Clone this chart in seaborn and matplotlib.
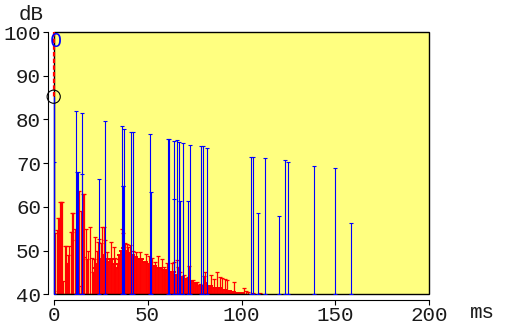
import numpy as np
import pandas as pd
import matplotlib
matplotlib.use("Agg")
import matplotlib.pyplot as plt
import seaborn as sns
from matplotlib.patches import Rectangle

# ---- data ----
blue_ms = [0.0, 11.9, 12.2, 12.8, 14.9, 15.0, 24.1, 27.1, 36.3, 36.7, 37.0, 37.6,
           41.0, 42.3, 51.2, 51.6, 60.8, 61.3, 64.1, 64.2, 65.6, 66.8, 67.3, 69.1,
           71.3, 72.7, 78.7, 79.3, 81.5, 105.3, 105.9, 108.7, 112.4, 119.8, 123.4,
           124.8, 138.6, 149.8, 158.5]
blue_db = [70.2, 81.9, 67.9, 67.9, 81.4, 67.5, 66.3, 79.6, 78.4, 64.7, 64.7, 77.8,
           77.2, 77.2, 76.6, 63.3, 75.5, 75.5, 75.0, 61.7, 75.2, 74.8, 61.4, 74.7,
           61.3, 74.1, 73.9, 73.9, 73.4, 71.5, 71.5, 58.7, 71.1, 58.0, 70.7,
           70.2, 69.3, 68.8, 56.2]

red_ms = [0.0, 0.5, 1.8, 2.3, 2.8, 3.4, 3.9, 4.3, 4.9, 6.0, 6.5, 7.1, 7.6, 8.1,
          9.2, 9.7, 10.0, 10.5, 11.1, 11.9, 13.5, 14.3, 14.5, 15.5, 16.1, 16.4,
          17.0, 17.7, 18.5, 19.3, 20.2, 20.9, 21.5, 22.0, 23.0, 23.5, 24.1, 25.2,
          25.7, 26.8, 27.3, 28.4, 30.5, 32.1, 32.6, 34.2, 36.3, 36.9, 37.7, 39.0,
          39.8, 40.6, 42.2, 43.8, 45.9, 49.1, 50.7, 52.3, 53.9, 55.5, 57.6, 58.7,
          60.3, 62.9, 64.0, 65.6, 66.1, 67.2, 69.3, 71.4, 72.0, 74.1, 76.2, 77.8,
          80.0, 80.5, 82.6, 83.7, 85.3, 86.9, 88.5, 89.5, 91.1, 92.2, 93.8, 95.9,
          98.6, 101.2, 102.3, 103.4, 106.0, 109.7]
red_db = [40.7, 54.1, 54.7, 57.5, 57.5, 61.0, 61.0, 61.0, 43.1, 51.0, 51.0, 47.1,
          49.0, 51.0, 54.3, 54.3, 58.5, 58.5, 55.0, 52.4, 63.7, 59.1, 42.0, 62.9,
          62.9, 48.6, 55.0, 48.1, 50.0, 55.3, 48.3, 45.2, 48.0, 53.2, 50.0, 52.0,
          52.7, 51.8, 55.4, 55.3, 52.4, 49.7, 52.0, 50.9, 48.2, 48.0, 54.9, 54.0,
          51.8, 51.5, 50.8, 51.3, 50.0, 49.7, 49.7, 49.2, 48.8, 48.2, 47.5, 48.8,
          48.0, 46.3, 47.1, 47.2, 47.5, 47.8, 46.3, 45.2, 44.4, 43.9, 46.5, 43.3,
          42.8, 42.4, 44.2, 45.0, 41.4, 44.4, 43.4, 45.2, 44.0, 43.7, 43.4, 43.3,
          40.6, 42.7, 40.2, 41.4, 40.8, 40.6, 40.4, 40.3]

fill_ms = list(range(22, 101))
fill_db = [46, 47, 48, 48, 49, 48.5, 48, 47.5, 48, 48, 47, 46, 47, 49, 50, 50.5,
           50, 49.5, 49.5, 49, 49, 48.5, 48.5, 48, 48, 48, 47.5, 47.5, 47, 47,
           46.5, 46.5, 46.5, 46, 46, 46, 45.5, 45.5, 45.5, 45, 45, 45, 45, 44.5,
           44.5, 44, 44, 43.5, 43.5, 43.5, 43, 43, 42.5, 42.5, 42.5, 42, 42, 42,
           42, 42.5, 42, 42, 42, 41.5, 41.5, 41.5, 41.5, 41.5, 41, 41, 41, 40.8,
           40.8, 40.6, 40.6, 40.4, 40.4, 40.3, 40.3]

direct_ms = [0.0, 0.0]
direct_db = [100.0, 85.2]
x_ticks = [0, 50, 100, 150, 200]
y_ticks = [40, 50, 60, 70, 80, 90, 100]
floor_db = 40.0

sns.set_theme(style="ticks")
plt.rcParams['font.family'] = ['Liberation Mono', 'DejaVu Sans']

fig = plt.figure(figsize=(5.05, 3.26), dpi=100)
ax = fig.add_axes([53.7 / 505, 1 - 294.3 / 326, (429.3 - 53.7) / 505, (294.3 - 32) / 326])
ax.set_facecolor('#FFFF80')

def stems(ms, db, color, lw, cap, z):
    ms = np.asarray(ms, float)
    db = np.asarray(db, float)
    ax.errorbar(ms, db, yerr=[db - floor_db, np.zeros_like(db)], fmt='none',
                ecolor=color, elinewidth=lw, capsize=cap, capthick=lw, zorder=z)

stems(fill_ms, fill_db, '#FF0000', 1.4, 1.4, 2)
stems(red_ms, red_db, '#FF0000', 0.9, 1.6, 3)

ax.add_patch(Rectangle((0, 0), 1, 1, transform=ax.transAxes, fill=False,
                       edgecolor='black', lw=1.0, clip_on=False, zorder=3.5))

# direct sound: blue line to circle, red dashed above
ax.plot([0, 0], [floor_db, direct_db[1]], color='#0000FF', lw=0.9, zorder=4, clip_on=False)
stems(blue_ms, blue_db, '#0000FF', 0.8, 1.6, 4)
ax.plot(direct_ms, direct_db, color='#FF0000', lw=1.6, ls=(0, (2, 1)), zorder=12, clip_on=False)
circ = pd.DataFrame({'ms': [direct_ms[1]], 'db': [direct_db[1]]})
sns.scatterplot(data=circ, x='ms', y='db', ax=ax, marker='o', s=90,
                facecolor='none', edgecolor='black', linewidth=0.8, zorder=13, clip_on=False)
ax.text(0.9, 97.8, '0', color='#0000FF', fontsize=14, family=['DejaVu Sans'],
        ha='center', va='center', zorder=14)

ax.set_xlim(0, 200)
ax.set_ylim(40, 100)
ax.set_xticks(x_ticks)
ax.set_yticks(y_ticks)
ax.set_xlabel('')
ax.set_ylabel('')
sns.despine(ax=ax, offset=4)
for s in ['left', 'bottom']:
    ax.spines[s].set_linewidth(0.8)
    ax.spines[s].set_color('black')
ax.tick_params(direction='out', length=3.6, width=0.8, colors='black',
               labelsize=15, pad=1.5)
ax.tick_params(axis='x', pad=1.0)
for lab in ax.get_xticklabels() + ax.get_yticklabels():
    lab.set_color('#1a1a1a')

fig.text(44 / 505, 1 - 15 / 326, 'dB', ha='right', va='center', fontsize=15, color='#1a1a1a')
fig.text(470 / 505, 1 - 312 / 326, 'ms', ha='left', va='center', fontsize=15, color='#1a1a1a')

fig.savefig('out.png', dpi=100)
